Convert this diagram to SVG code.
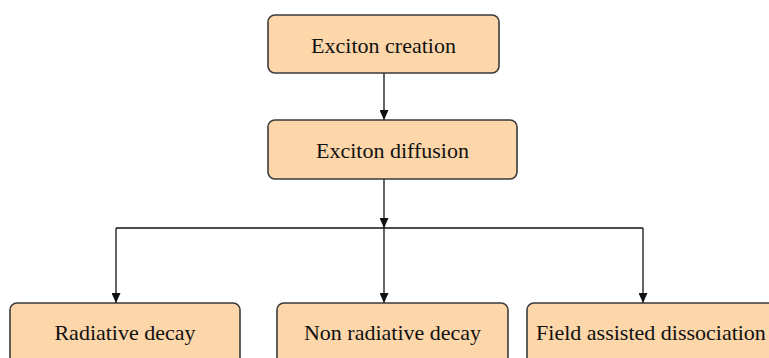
<svg xmlns="http://www.w3.org/2000/svg" width="769" height="358" viewBox="0 0 769 358">
  <style>
    .box { fill: #FDD6A9; stroke: #3a3a3a; stroke-width: 1.6; }
    .lbl { font-family: 'Liberation Serif', 'Times New Roman', Times, serif; font-size: 22px; fill: #111; text-anchor: middle; }
    .wire { fill: none; stroke: #111; stroke-width: 1.3; }
  </style>
  <defs>
    <marker id="arrow" viewBox="0 0 10 10" refX="10" refY="5" markerWidth="10" markerHeight="9" markerUnits="userSpaceOnUse" orient="auto" preserveAspectRatio="none">
      <path d="M0,0 L10,5 L0,10 z" fill="#111"/>
    </marker>
  </defs>
  <rect width="769" height="358" fill="#fff"/>

  <!-- flow lines, all ending with a filled arrowhead -->
  <g id="connectors">
    <line class="wire" x1="384" y1="73" x2="384" y2="120" marker-end="url(#arrow)"/>
    <line class="wire" x1="384" y1="179" x2="384" y2="228" marker-end="url(#arrow)"/>
    <line class="wire" x1="116" y1="228" x2="643" y2="228"/>
    <line class="wire" x1="116" y1="228" x2="116" y2="303" marker-end="url(#arrow)"/>
    <line class="wire" x1="384" y1="228" x2="384" y2="303" marker-end="url(#arrow)"/>
    <line class="wire" x1="643" y1="228" x2="643" y2="303" marker-end="url(#arrow)"/>
  </g>

  <g id="exciton-creation">
    <rect class="box" x="268" y="15" width="231" height="58" rx="7"/>
    <text class="lbl" x="383.5" y="53" font-family="Liberation Serif, serif">Exciton creation</text>
  </g>
  <g id="exciton-diffusion">
    <rect class="box" x="268" y="120" width="249" height="59" rx="7"/>
    <text class="lbl" x="392.5" y="158" font-family="Liberation Serif, serif">Exciton diffusion</text>
  </g>
  <g id="radiative-decay">
    <rect class="box" x="10" y="303" width="230" height="64" rx="7"/>
    <text class="lbl" x="125" y="340" font-family="Liberation Serif, serif">Radiative decay</text>
  </g>
  <g id="non-radiative-decay">
    <rect class="box" x="277" y="303" width="231" height="64" rx="7"/>
    <text class="lbl" x="392.5" y="340" font-family="Liberation Serif, serif">Non radiative decay</text>
  </g>
  <g id="field-assisted-dissociation">
    <rect class="box" x="527" y="303" width="260" height="64" rx="7"/>
    <text class="lbl" x="651" y="340" font-family="Liberation Serif, serif">Field assisted dissociation</text>
  </g>
</svg>
